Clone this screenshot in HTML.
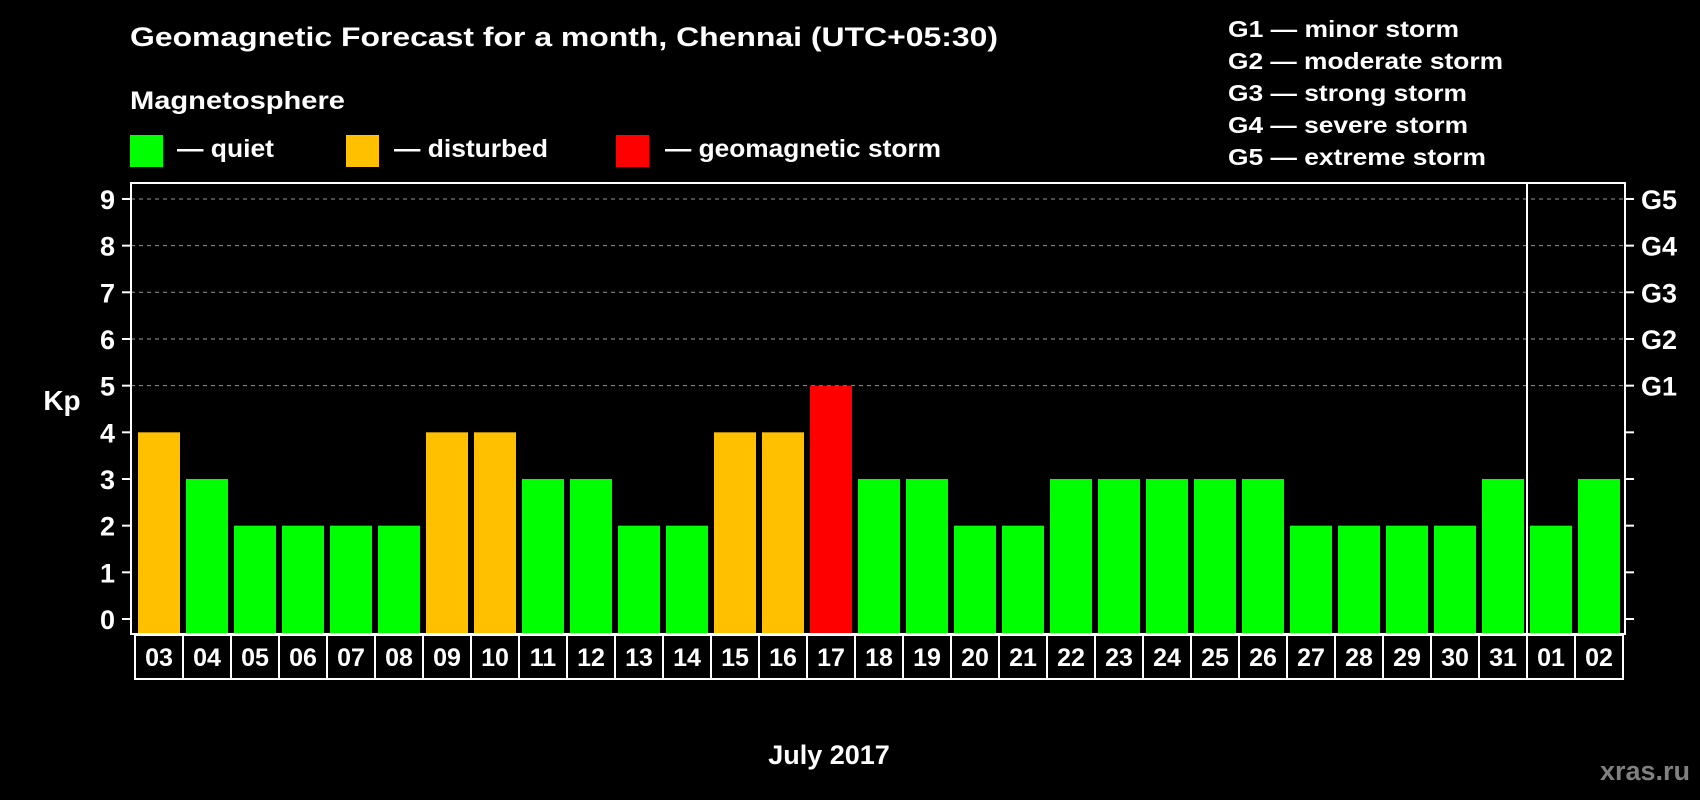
<!DOCTYPE html>
<html><head><meta charset="utf-8"><style>
html,body{margin:0;padding:0;background:#000;}
svg{display:block;font-family:"Liberation Sans",Arial,sans-serif;font-weight:bold;}
</style></head><body>
<svg id="c" width="1700" height="800" viewBox="0 0 1700 800">
<rect width="1700" height="800" fill="#000"/>
<text x="130" y="46" fill="#fff" font-size="27" textLength="868" lengthAdjust="spacingAndGlyphs">Geomagnetic Forecast for a month, Chennai (UTC+05:30)</text>
<text x="130" y="109" fill="#fff" font-size="25" textLength="215" lengthAdjust="spacingAndGlyphs">Magnetosphere</text>
<g><rect x="130" y="135" width="33" height="32" fill="#00ff00"/><text x="177" y="157" fill="#fff" font-size="25" textLength="97" lengthAdjust="spacingAndGlyphs">— quiet</text></g>
<g><rect x="346" y="135" width="33" height="32" fill="#ffc000"/><text x="394" y="157" fill="#fff" font-size="25" textLength="154" lengthAdjust="spacingAndGlyphs">— disturbed</text></g>
<g><rect x="616" y="135" width="33" height="32" fill="#ff0000"/><text x="665" y="157" fill="#fff" font-size="25" textLength="276" lengthAdjust="spacingAndGlyphs">— geomagnetic storm</text></g>
<g fill="#fff" font-size="23">
<text x="1228" y="37" textLength="231" lengthAdjust="spacingAndGlyphs">G1 — minor storm</text>
<text x="1228" y="69" textLength="275" lengthAdjust="spacingAndGlyphs">G2 — moderate storm</text>
<text x="1228" y="101" textLength="239" lengthAdjust="spacingAndGlyphs">G3 — strong storm</text>
<text x="1228" y="133" textLength="240" lengthAdjust="spacingAndGlyphs">G4 — severe storm</text>
<text x="1228" y="165" textLength="258" lengthAdjust="spacingAndGlyphs">G5 — extreme storm</text>
</g>
<g id="plot"></g>
<text x="62" y="410" fill="#fff" font-size="28" text-anchor="middle">Kp</text>
<text x="829" y="764" fill="#fff" font-size="27" text-anchor="middle">July 2017</text>
<text x="1690" y="780" fill="#808080" font-size="27" text-anchor="end">xras.ru</text>
</svg>
<script>
const days=["03","04","05","06","07","08","09","10","11","12","13","14","15","16","17","18","19","20","21","22","23","24","25","26","27","28","29","30","31","01","02"];
const kp=[4,3,2,2,2,2,4,4,3,3,2,2,4,4,5,3,3,2,2,3,3,3,3,3,2,2,2,2,3,2,3];
const yTicks=[0,1,2,3,4,5,6,7,8,9];
const gLabels=["G1","G2","G3","G4","G5"];
const gLevels=[5,6,7,8,9];
const NS="http://www.w3.org/2000/svg";
const g=document.getElementById('plot');
const L=131,R=1625,T=183,B=634;
const y=v=>619-v*46.67;
const x=i=>138+i*48;
function mk(t,a,p){const e=document.createElementNS(NS,t);for(const k in a)e.setAttribute(k,a[k]);(p||g).appendChild(e);return e;}
function color(v){return v>=5?"#ff0000":v>=4?"#ffc000":"#00ff00";}
yTicks.forEach(v=>{
  if(v>=5){const l=mk('line',{x1:L,x2:R,y1:y(v),y2:y(v),stroke:'#999','stroke-width':1,'stroke-dasharray':'4,4'});
  
  }
  const t1=mk('line',{x1:L-9,x2:L,y1:y(v),y2:y(v),stroke:'#fff','stroke-width':2});
  
  
  const t2=mk('line',{x1:R,x2:R+9,y1:y(v),y2:y(v),stroke:'#fff','stroke-width':2});
  
  
  const tx=mk('text',{x:115,y:y(v)+10,fill:'#fff','font-size':27,'text-anchor':'end'});
  tx.textContent=v;
  
  
});
gLevels.forEach((v,i)=>{
  const t=mk('text',{x:1641,y:y(v)+10,fill:'#fff','font-size':27});
  t.textContent=gLabels[i];
  
  
});
kp.forEach((v,i)=>{
  const r=mk('rect',{x:x(i),y:y(v),width:42,height:B-1-y(v),fill:color(v)});
  
  
  const b=mk('rect',{x:135+i*48,y:635,width:48,height:44,fill:'none',stroke:'#fff','stroke-width':2});
  
  
  const t=mk('text',{x:159+i*48,y:666,fill:'#fff','font-size':25,'text-anchor':'middle'});
  t.textContent=days[i];
  
  
});
const f=mk('rect',{x:L,y:T,width:R-L,height:B-T,fill:'none',stroke:'#fff','stroke-width':2});


const s=mk('line',{x1:1527,x2:1527,y1:T,y2:B,stroke:'#fff','stroke-width':2});


</script>
</body></html>
